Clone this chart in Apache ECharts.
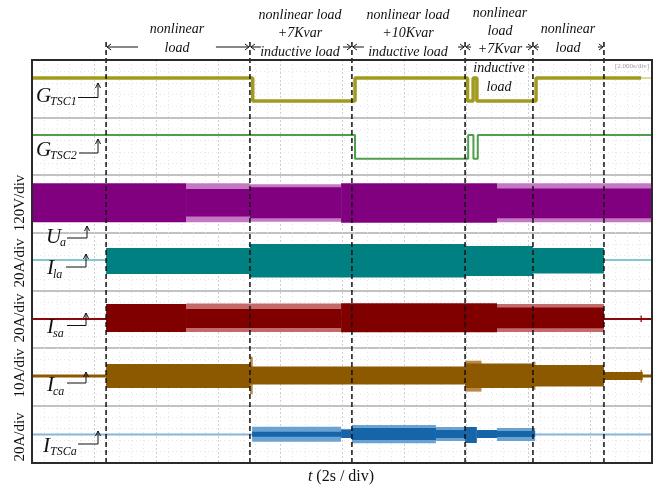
<!DOCTYPE html>
<html><head><meta charset="utf-8">
<script src="https://cdn.jsdelivr.net/npm/echarts@6/dist/echarts.min.js"></script>
<style>html,body{margin:0;padding:0;background:#fff}#c{width:657px;height:488px}</style>
</head><body><div id="c"></div>
<script>
// ---------- DATA (time in s, 2 s/div; vertical values in scope divisions 0..7) ----------
const timeTicks = [0, 2, 4, 6, 8, 10, 12, 14, 16, 18, 20];
const eventTimes = [2.39, 7.03, 10.32, 13.97, 16.16, 18.45];

// gate signals: [switch time, state]
const gTsc1States = [[0, 1], [7.12, 0], [10.42, 1], [14.05, 0], [14.23, 1], [14.35, 0], [16.26, 1], [19.65, 1]];
const gTsc1Tail = [[19.65, 1], [20, 1]];
const gTsc1Levels = [6.288, 6.688];
const gTsc2States = [[0, 1], [10.42, 0], [14.07, 1], [14.24, 0], [14.38, 1], [20, 1]];
const gTsc2Levels = [5.286, 5.697];

// envelopes: [tStart, tEnd, lower, upper]
const uaCore = [[0, 4.97, 4.18, 4.86], [4.97, 7.03, 4.28, 4.76], [7.03, 9.97, 4.25, 4.79], [9.97, 15.0, 4.175, 4.86], [15.0, 20, 4.25, 4.77]];
const uaFringe = [[4.97, 7.03, 4.18, 4.86], [7.03, 9.97, 4.19, 4.84], [15.0, 20, 4.18, 4.86]];

const ilaZero = 3.526;
const ilaCore = [[2.39, 7.03, 3.283, 3.735], [7.03, 13.97, 3.222, 3.804], [13.97, 16.16, 3.248, 3.77], [16.16, 18.45, 3.292, 3.735]];

const isaZero = 2.501;
const isaCore = [[2.39, 4.97, 2.276, 2.762], [4.97, 9.97, 2.345, 2.675], [9.97, 15.0, 2.272, 2.774], [15.0, 18.45, 2.340, 2.701], [19.63, 19.67, 2.45, 2.56]];
const isaFringe = [[4.97, 9.97, 2.276, 2.771], [15.0, 18.45, 2.276, 2.762]];

const icaZero = 1.511;
const icaCore = [[2.39, 7.03, 1.303, 1.720], [7.03, 13.97, 1.364, 1.676], [13.97, 16.16, 1.303, 1.728], [16.16, 18.45, 1.329, 1.702], [18.45, 19.7, 1.442, 1.581]];
const icaSpike = [[7.03, 7.12, 1.196, 1.846], [13.97, 14.5, 1.24, 1.777], [16.16, 16.24, 1.27, 1.76], [19.63, 19.68, 1.40, 1.62]];

const itscaZero = 0.495;
const itscaCore = [[7.10, 9.97, 0.457, 0.544], [9.97, 10.32, 0.434, 0.585], [10.32, 13.03, 0.400, 0.608], [13.03, 13.97, 0.434, 0.573], [13.97, 14.35, 0.347, 0.625], [14.35, 15.0, 0.434, 0.573], [15.0, 16.23, 0.451, 0.556]];
const itscaFringe = [[7.10, 9.97, 0.370, 0.631], [10.32, 13.03, 0.342, 0.660], [13.03, 13.97, 0.382, 0.625], [15.0, 16.23, 0.382, 0.608]];

// ---------- STYLE / LAYOUT ----------
const SERIF = '"Liberation Serif", "Times New Roman", serif';
const eventArrowLen = [[0, 32], [34, 11], [9, 12], [7, 6], [7, 6], [6, 0]];

const chart = echarts.init(document.getElementById('c'), null, {renderer: 'canvas'});

function bandSeries(data, color, z) {
  return {
    type: 'custom', coordinateSystem: 'cartesian2d', data: data, z: z, silent: true, clip: true,
    encode: {x: [0, 1], y: [2, 3]},
    renderItem: function (params, api) {
      const p0 = api.coord([api.value(0), api.value(3)]);
      const p1 = api.coord([api.value(1), api.value(2)]);
      return {type: 'rect', shape: {x: p0[0], y: p0[1], width: p1[0] - p0[0], height: p1[1] - p0[1]}, style: {fill: color}};
    }
  };
}
function stateLine(states, levels) {
  return states.map(function (s) { return [s[0], levels[s[1]]]; });
}
function flatLine(level) { return [[0, level], [20, level]]; }
function lineSeries(data, color, width, z, step) {
  return {type: 'line', data: data, step: step || false, symbol: 'none', silent: true, z: z,
    lineStyle: {color: color, width: width}, animation: false};
}

const eventSeries = {
  type: 'custom', coordinateSystem: 'cartesian2d', clip: false, silent: true, z: 20,
  data: eventTimes.map(function (t) { return [t]; }),
  encode: {x: 0},
  renderItem: function (params, api) {
    const t = api.value(0);
    const pb = api.coord([t, 0]);
    const pt = api.coord([t, 7]);
    const x = pb[0];
    const ya = pt[1] - 13;
    const children = [{type: 'line', shape: {x1: x, y1: pb[1], x2: x, y2: pt[1] - 19},
      style: {stroke: '#111', lineWidth: 1.5, lineDash: [5, 3]}}];
    const L = eventArrowLen[params.dataIndex];
    const st = {stroke: '#111', lineWidth: 1, fill: null};
    if (L[0] > 0) {
      children.push({type: 'line', shape: {x1: x - L[0], y1: ya, x2: x - 1, y2: ya}, style: st});
      children.push({type: 'polyline', shape: {points: [[x - 5, ya - 3], [x - 1, ya], [x - 5, ya + 3]]}, style: st});
    }
    if (L[1] > 0) {
      children.push({type: 'line', shape: {x1: x + 1, y1: ya, x2: x + L[1], y2: ya}, style: st});
      children.push({type: 'polyline', shape: {points: [[x + 5, ya - 3], [x + 1, ya], [x + 5, ya + 3]]}, style: st});
    }
    return {type: 'group', children: children};
  }
};

// ---------- TEXT GRAPHICS ----------
const graphics = [];
function txt(x, y, s, font, opt) {
  opt = opt || {};
  graphics.push({type: 'text', x: x, y: y, rotation: opt.rot || 0, z: 100, silent: true,
    style: {text: s, font: font, fill: opt.fill || '#111', align: opt.align || 'center', verticalAlign: 'middle'}});
}
const annFont = 'italic 14px ' + SERIF;
[[177, 29, 'nonlinear'], [177, 48, 'load'],
 [300, 15, 'nonlinear load'], [300, 33, '+7Kvar'], [300, 52, 'inductive load'],
 [408, 15, 'nonlinear load'], [408, 33, '+10Kvar'], [408, 52, 'inductive load'],
 [500, 13, 'nonlinear'], [500, 31, 'load'], [500, 49, '+7Kvar'], [499, 68, 'inductive'], [499, 87, 'load'],
 [568, 29, 'nonlinear'], [568, 48, 'load']].forEach(function (a) { txt(a[0], a[1], a[2], annFont); });

// trace labels
const mainFont = 'italic 21px ' + SERIF, subFont = 'italic 12px ' + SERIF;
[['G', 36, 96, 'TSC1', 50, 102, 78, 98, 97.5, 83],
 ['G', 36, 150, 'TSC2', 50, 156, 79, 98, 153, 139],
 ['U', 46, 237, 'a', 60, 243, 67, 87, 238, 226],
 ['I', 47, 268, 'la', 53, 275, 66, 86, 267, 254],
 ['I', 47, 327, 'sa', 53, 334, 67, 86, 325.5, 313],
 ['I', 47, 385, 'ca', 53, 392, 67, 86, 383, 372],
 ['I', 43, 446, 'TSCa', 50, 452, 78, 98, 444, 431]].forEach(function (l) {
  txt(l[1], l[2], l[0], mainFont, {align: 'left'});
  txt(l[4], l[5], l[3], subFont, {align: 'left'});
  const st = {stroke: '#111', lineWidth: 1, fill: null};
  graphics.push({type: 'polyline', z: 100, silent: true, shape: {points: [[l[6], l[8]], [l[7], l[8]], [l[7], l[9]]]}, style: st});
  graphics.push({type: 'polyline', z: 100, silent: true, shape: {points: [[l[7] - 2.5, l[9] + 5], [l[7], l[9]], [l[7] + 2.5, l[9] + 5]]}, style: st});
});

// vertical scale labels
const scaleFont = '15px ' + SERIF;
[[20, 203, '120V/div'], [20, 263, '20A/div'], [20, 318, '20A/div'], [20, 373, '10A/div'], [20, 437, '20A/div']]
  .forEach(function (s) { txt(s[0], s[1], s[2], scaleFont, {rot: Math.PI / 2}); });

// time label
graphics.push({type: 'text', x: 341, y: 477, z: 100, silent: true,
  style: {text: '{a|t} (2s / div)', font: '16px ' + SERIF, fill: '#111', align: 'center', verticalAlign: 'middle',
    rich: {a: {font: 'italic 16px ' + SERIF, fill: '#111'}}}});
txt(632, 66, '[2.000s/div]', '7px ' + SERIF, {fill: '#9a9a9a'});

// frame
graphics.push({type: 'rect', z: 90, silent: true, shape: {x: 32, y: 60, width: 620, height: 403},
  style: {fill: null, stroke: '#2a2a2a', lineWidth: 2}});

// ---------- OPTION ----------
chart.setOption({
  animation: false,
  backgroundColor: '#fff',
  grid: {left: 32, right: 5, top: 60, bottom: 25},
  xAxis: {type: 'value', min: 0, max: 20, interval: 2,
    axisLabel: {show: false}, axisTick: {show: false}, axisLine: {show: false},
    splitLine: {show: true, lineStyle: {color: '#cfcfcf', width: 1, type: [2, 2]}},
    minorTick: {show: false, splitNumber: 5},
    minorSplitLine: {show: true, lineStyle: {color: '#e4e4e4', width: 1, type: [1, 3]}}},
  yAxis: {type: 'value', min: 0, max: 7, interval: 1,
    axisLabel: {show: false}, axisTick: {show: false}, axisLine: {show: false},
    splitLine: {show: true, lineStyle: {color: '#c2c2c2', width: 2}},
    minorTick: {show: false, splitNumber: 5},
    minorSplitLine: {show: true, lineStyle: {color: '#e6e6e6', width: 1, type: [1, 3]}}},
  graphic: graphics,
  series: [
    lineSeries(stateLine(gTsc1States, gTsc1Levels), '#a19b1d', 3.5, 5, 'end'),
    lineSeries(stateLine(gTsc1Tail, gTsc1Levels), '#cfcf7a', 1.5, 5),
    lineSeries(stateLine(gTsc2States, gTsc2Levels), '#4e9e4e', 2, 5, 'end'),
    bandSeries(uaFringe, '#c478c4', 4),
    bandSeries(uaCore, '#800080', 5),
    lineSeries(flatLine(ilaZero), '#5ab4bf', 1.5, 4),
    bandSeries(ilaCore, '#008080', 5),
    lineSeries(flatLine(isaZero), '#8a0a0a', 2, 4),
    bandSeries(isaFringe, '#c46a6a', 4),
    bandSeries(isaCore, '#800000', 5),
    lineSeries(flatLine(icaZero), '#8c5800', 3, 4),
    bandSeries(icaSpike, '#b98a45', 4),
    bandSeries(icaCore, '#8c5800', 5),
    lineSeries(flatLine(itscaZero), '#86b5d8', 2, 4),
    bandSeries(itscaFringe, '#6aa3d2', 4),
    bandSeries(itscaCore, '#1565a8', 5),
    eventSeries
  ]
});
</script></body></html>
